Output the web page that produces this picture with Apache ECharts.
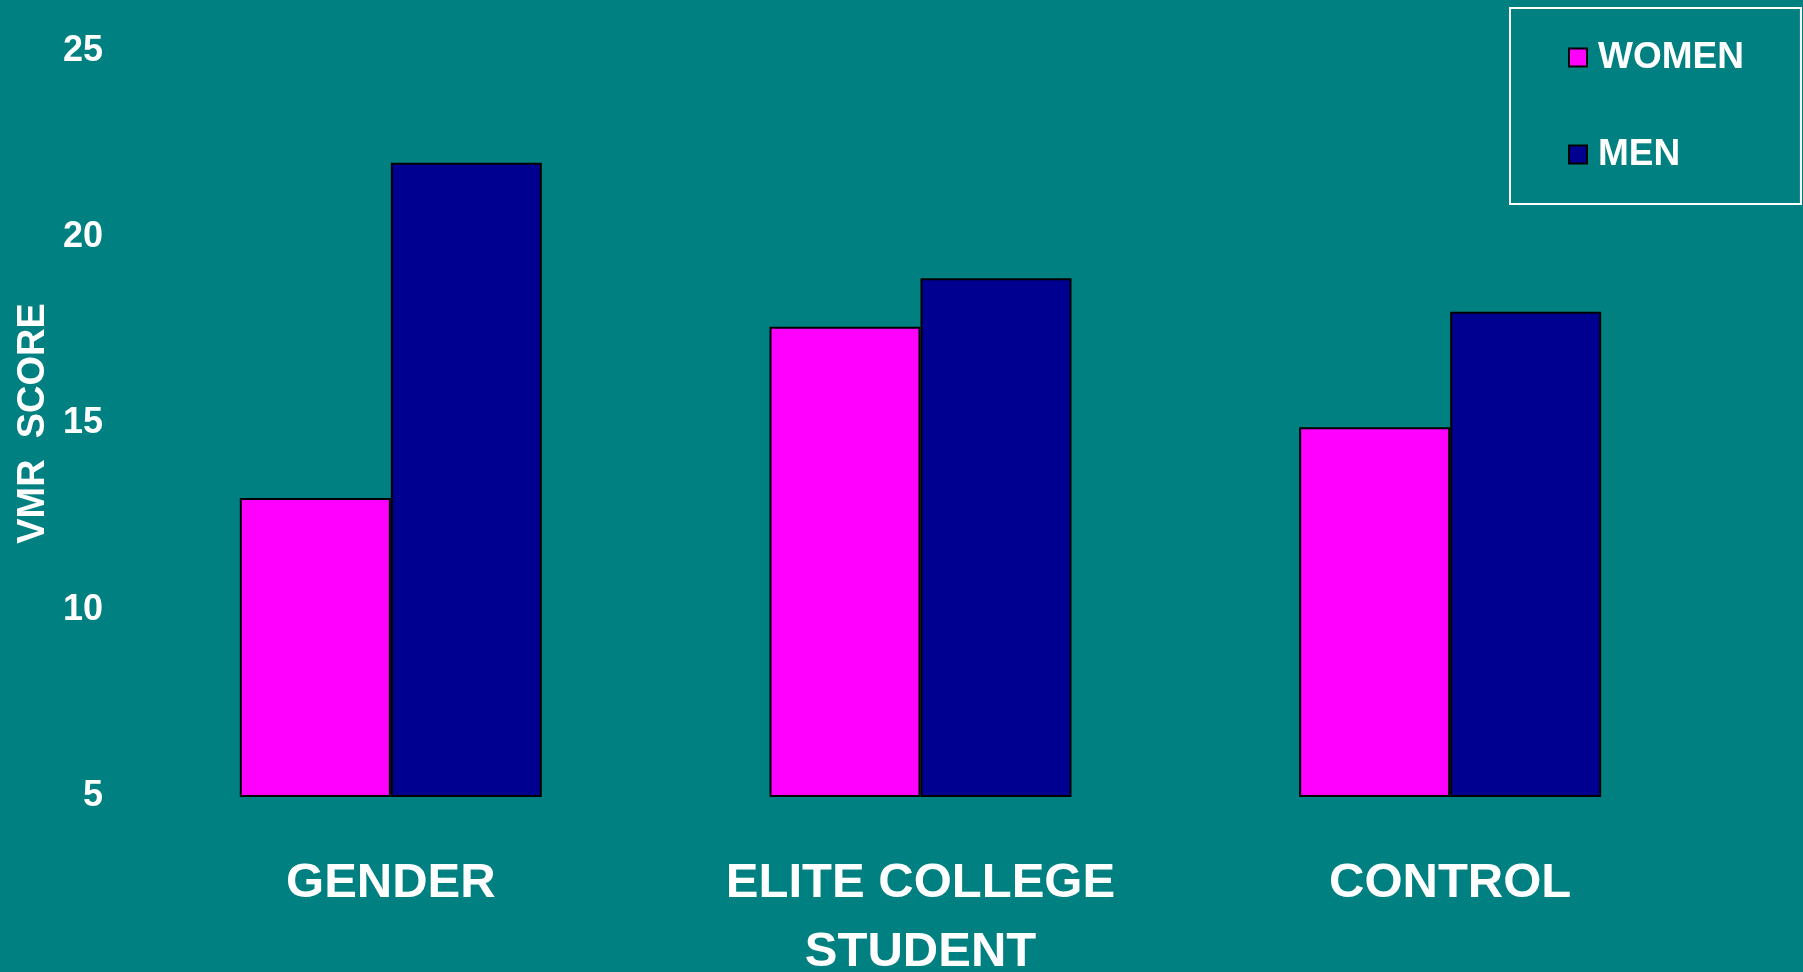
<!DOCTYPE html>
<html>
<head>
<meta charset="utf-8">
<script src="https://cdn.jsdelivr.net/npm/echarts@6/dist/echarts.min.js"></script>
<style>
html,body{margin:0;padding:0;background:#008080;}
#chart{width:1803px;height:972px;}
</style>
</head>
<body>
<div id="chart"></div>
<script>
const categories = ['GENDER', 'ELITE COLLEGE\nSTUDENT', 'CONTROL'];
const womenValues = [13, 17.6, 14.9];
const menValues = [22, 18.9, 18];
const seriesNames = ['WOMEN', 'MEN'];
const yAxisName = 'VMR  SCORE';

const font = 'Arial, "Liberation Sans", sans-serif';
const chart = echarts.init(document.getElementById('chart'));
chart.setOption({
  backgroundColor: '#008080',
  animation: false,
  grid: { left: 126, right: 88, top: 51, bottom: 176, containLabel: false, outerBoundsMode: 'none' },
  legend: {
    orient: 'vertical',
    left: 1510, top: 8,
    padding: [31, 57, 31, 58],
    itemGap: 60,
    itemWidth: 18, itemHeight: 18,
    borderColor: '#ffffff', borderWidth: 2,
    icon: 'rect',
    textStyle: { color: '#ffffff', fontFamily: font, fontWeight: 'bold', fontSize: 37, lineHeight: 37, padding: [0,0,0,6] },
    data: seriesNames
  },
  xAxis: {
    type: 'category',
    data: categories,
    axisLine: { show: false },
    axisTick: { show: false },
    axisLabel: { color: '#ffffff', fontFamily: font, fontWeight: 'bold', fontSize: 49, lineHeight: 69, margin: 53, interval: 0 }
  },
  yAxis: {
    type: 'value',
    min: 5, max: 25, interval: 5,
    name: yAxisName,
    nameLocation: 'middle',
    nameGap: 71,
    nameTextStyle: { color: '#ffffff', fontFamily: font, fontWeight: 'bold', fontSize: 38 },
    axisLine: { show: false },
    axisTick: { show: false },
    splitLine: { show: false },
    axisLabel: { color: '#ffffff', fontFamily: font, fontWeight: 'bold', fontSize: 36, margin: 23, padding: [5, 0, 0, 0] }
  },
  series: [
    { name: seriesNames[0], type: 'bar', data: womenValues, barWidth: 151, barGap: '0%',
      itemStyle: { color: '#ff00ff', borderColor: '#000000', borderWidth: 2 } },
    { name: seriesNames[1], type: 'bar', data: menValues, barWidth: 151, barGap: '0%',
      itemStyle: { color: '#000090', borderColor: '#000000', borderWidth: 2 } }
  ]
});
</script>
</body>
</html>
